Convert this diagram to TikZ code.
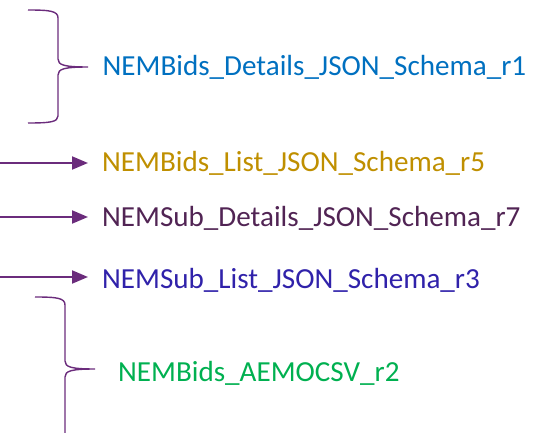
\documentclass[tikz,border=0pt]{standalone}
\usepackage{fontspec}
\setmainfont{Carlito}
\usetikzlibrary{arrows.meta}
\definecolor{linepurple}{HTML}{6B2C7C}
\definecolor{cblue}{HTML}{0070C0}
\definecolor{cgold}{HTML}{BF8F00}
\definecolor{cplum}{HTML}{512454}
\definecolor{cindigo}{HTML}{3022AA}
\definecolor{cgreen}{HTML}{00B050}
\tikzset{
  label/.style={anchor=base west, inner sep=0pt, font=\fontsize{29.1}{35}\selectfont},
  brace/.style={draw=linepurple, line width=1.4pt},
  arr/.style={draw=linepurple, line width=2pt, -{Triangle[length=16pt,width=13pt]}},
}
\begin{document}
\begin{tikzpicture}[x=1pt,y=-1pt]
\useasboundingbox (0,0) rectangle (539,433);

% labels
\node[label, text=cblue]   (t1) at (102.5,75.5)  {NEMBids\_Details\_JSON\_Schema\_r1};
\node[label, text=cgold]   (t2) at (102,171.5) {NEMBids\_List\_JSON\_Schema\_r5};
\node[label, text=cplum]   (t3) at (102,226.5) {NEMSub\_Details\_JSON\_Schema\_r7};
\node[label, text=cindigo] (t4) at (102,288.5) {NEMSub\_List\_JSON\_Schema\_r3};
\node[label, text=cgreen]  (t5) at (118,381.5) {NEMBids\_AEMOCSV\_r2};

% upper brace
\draw[brace] (28,10) .. controls (50,10) and (58,11) .. (58,18)
  -- (58,59) .. controls (58,65) and (64,67) .. (88,67)
  .. controls (64,67) and (58,69) .. (58,75)
  -- (58,116) .. controls (58,122) and (50,123) .. (28,123);

% lower brace
\draw[brace] (35,297) .. controls (57,297) and (65,298) .. (65,305)
  -- (65,361) .. controls (65,367) and (71,369) .. (95,369)
  .. controls (71,369) and (65,371) .. (65,377)
  -- (65,440);

% arrows
\coordinate (s2) at (0,163);
\coordinate (s3) at (0,217);
\coordinate (s4) at (0,277);
\draw[arr] (s2) -- ([xshift=-14pt]s2 -| t2.west);
\draw[arr] (s3) -- ([xshift=-14pt]s3 -| t3.west);
\draw[arr] (s4) -- ([xshift=-14pt]s4 -| t4.west);
\end{tikzpicture}
\end{document}
